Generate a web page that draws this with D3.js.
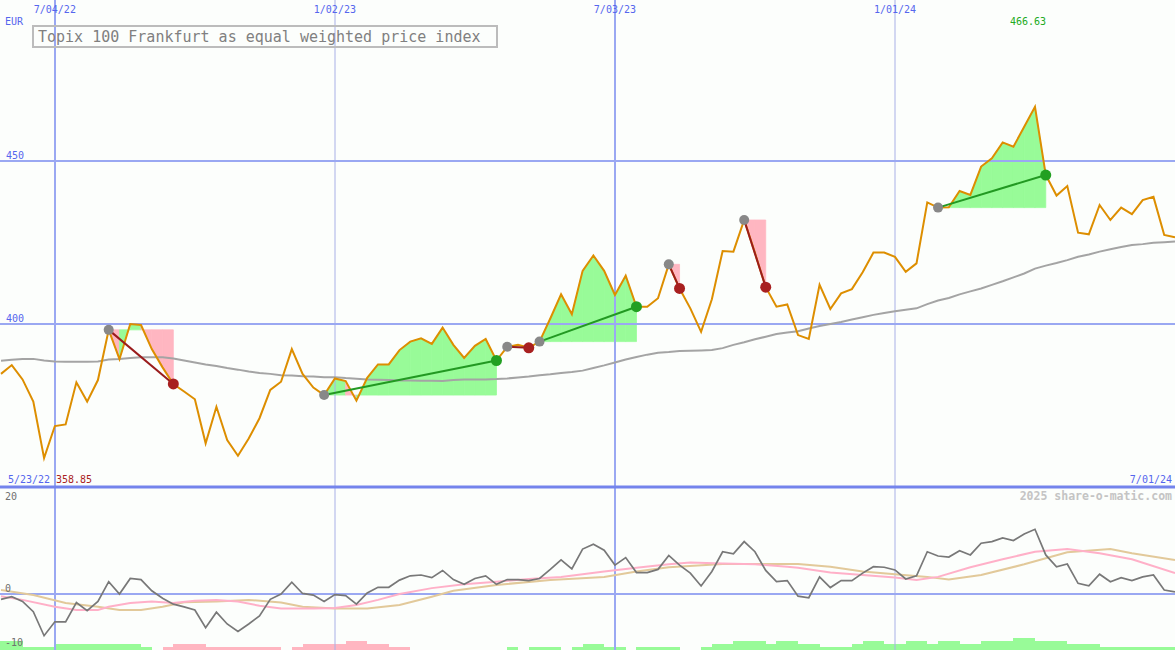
<!DOCTYPE html>
<html><head><meta charset="utf-8">
<script src="https://cdn.jsdelivr.net/npm/d3@7"></script>
<style>html,body{margin:0;padding:0;background:#fcfefc;}svg{display:block;}</style>
</head><body>
<svg id="c" width="1175" height="650"></svg>
<script>
// ---------------- DATA ----------------
const startDate = "2022-05-30";           // first weekly observation (Monday)
const endDate = "2024-07-01";             // last weekly observation
const price = [384.7,387.4,383.0,376.2,358.85,368.7,369.2,382.1,376.2,382.8,
 398.2,389.2,400.0,399.7,392.3,386.7,381.6,379.3,376.9,363.4,
 374.6,364.4,359.6,364.9,371.1,379.8,382.3,392.3,384.7,380.5,
 378.2,383.3,382.5,376.5,383.5,387.6,387.6,392.0,394.6,395.6,
 393.9,398.9,393.6,389.6,393.3,395.4,388.8,393.0,393.6,392.7,
 394.6,401.7,409.1,403.0,416.3,421.0,416.3,408.9,414.8,405.3,
 405.3,407.9,418.3,410.9,404.8,397.6,407.6,422.4,422.2,431.9,
 421.8,411.3,405.3,406.0,396.6,395.4,412.0,404.6,409.4,410.7,
 415.9,421.9,421.9,420.6,416.0,418.6,437.3,435.7,435.8,440.8,
 439.6,448.3,450.8,455.7,454.4,460.5,466.63,445.7,439.4,442.3,
 428.0,427.5,436.5,431.9,435.7,433.7,438.0,439.0,427.3,426.6];
const movingAvg = [388.7,389.0,389.3,389.3,388.8,388.5,388.4,388.4,388.4,388.5,
 389.1,389.3,389.6,389.8,389.8,389.8,389.4,388.8,388.2,387.6,
 387.1,386.5,386.0,385.4,385.0,384.7,384.3,384.2,384.0,383.9,
 383.7,383.7,383.4,383.2,383.0,382.9,382.8,382.7,382.7,382.6,
 382.6,382.5,382.8,383.0,383.0,383.0,383.1,383.3,383.6,383.9,
 384.3,384.6,385.0,385.3,385.7,386.5,387.3,388.2,389.1,389.9,
 390.6,391.2,391.4,391.7,391.8,391.9,392.0,392.6,393.6,394.4,
 395.3,396.1,396.9,397.4,397.8,398.6,399.4,400.0,400.6,401.4,
 402.1,402.8,403.4,403.9,404.4,404.8,406.1,407.2,408.0,409.1,
 410.0,410.9,412.0,413.1,414.3,415.5,417.0,417.9,418.7,419.6,
 420.6,421.3,422.2,422.9,423.6,424.2,424.5,424.9,425.1,425.3];
const momentum = [-1.0,-0.5,-1.4,-3.3,-7.8,-5.2,-5.2,-1.6,-3.1,-1.4,
 2.3,0.0,2.9,2.7,0.6,-0.8,-1.9,-2.4,-3.0,-6.3,
 -3.4,-5.6,-7.0,-5.6,-4.1,-1.0,0.0,2.2,0.1,-0.2,
 -1.4,-0.1,-0.3,-1.9,0.2,1.25,1.25,2.6,3.4,3.55,
 3.05,4.4,2.7,1.8,2.9,3.4,1.8,2.7,2.7,2.5,
 2.9,4.6,6.4,4.7,8.4,9.3,8.2,5.4,6.8,4.0,
 4.0,4.6,7.2,5.4,3.9,1.5,4.2,7.9,7.5,9.8,
 7.9,4.4,2.3,2.5,-0.4,-0.7,3.2,1.2,2.5,2.5,
 3.9,5.1,5.0,4.5,2.8,3.4,7.9,7.1,6.9,8.1,
 7.3,9.5,9.8,10.5,10.0,11.2,12.1,7.3,5.1,5.6,
 2.0,1.55,3.7,2.3,3.05,2.5,3.2,3.55,0.75,0.4];
// smoothed indicator lines, read at these week indices
const pinkWeeks = [0,2,5,7,9,10,12,14,16,18,20,22,24,26,29,31,33,35,37,40,43,46,49,52,56,59,62,64,67,70,73,74,77,80,83,85,87,90,93,96,99,102,105,109];
const pinkVals  = [-0.4,-1.1,-2.4,-3.0,-3.0,-2.4,-1.7,-1.4,-1.7,-1.25,-1.1,-1.4,-2.2,-2.7,-2.7,-2.6,-2.05,-1.1,0,1.1,1.8,2.3,2.8,3.2,4.2,4.9,5.55,5.9,5.7,5.55,5.1,4.9,4.0,3.55,3.1,2.6,3.2,5.0,6.5,7.9,8.4,7.6,6.5,3.9];
const tanWeeks = [0,3,6,9,11,13,15,17,20,23,26,28,31,34,37,40,42,46,51,56,59,62,67,71,74,77,80,83,86,88,91,95,99,103,105,109];
const tanVals  = [0.75,-0.2,-1.7,-2.4,-3.0,-3.0,-2.4,-1.55,-1.4,-1.1,-1.6,-2.4,-2.7,-2.7,-2.05,-0.5,0.6,1.7,2.6,3.2,4.2,5.0,5.6,5.6,5.6,5.1,4.2,3.7,3.2,2.7,3.55,5.55,7.8,8.4,7.6,6.35];
// weekly bottom bars (positive = green, negative = pink)
const weekBars = [3,3,1,1,1,2,2,2,2,2,
 2,2,2,1,0,-1,-2,-2,-2,-1,
 -1,-1,-1,-1,-1,-1,0,-1,-2,-2,
 -2,-2,-3,-3,-2,-2,-1,-1,0,0,
 0,0,0,0,0,0,0,1,0,1,
 1,1,0,1,2,2,1,1,0,1,
 1,1,1,0,0,1,2,2,3,3,
 3,2,3,3,2,2,1,1,1,2,
 3,3,2,2,3,3,2,3,3,2,
 2,3,3,3,4,4,3,3,3,2,
 2,2,1,1,1,1,1,1,1];
// trade signals (week indices)
const entryWeeks = [10,30,47,50,62,69,87];
const exitWeeks  = [16,46,49,59,63,71,97];
// axis labels
const gridDates  = ["2022-07-04","2023-01-02","2023-07-03","2024-01-01"];
const gridLabels = ["7/04/22","1/02/23","7/03/23","1/01/24"];
const priceTicks = [400,450];
const indTicks = [20,0,-10];
const titleText = "Topix 100 Frankfurt as equal weighted price index";
const firstLabel = "5/23/22", lastLabel = "7/01/24";
const minLabel = "358.85", maxLabel = "466.63";
const credit = "2025 share-o-matic.com";

// ---------------- CHART ----------------
const W = 1175, H = 650;
const svg = d3.select("#c");
const parse = d3.utcParse("%Y-%m-%d");
const t0 = parse(startDate);
const dates = price.map((_, i) => d3.utcDay.offset(t0, 7 * i));
const x = d3.scaleUtc().domain([t0, parse(endDate)]).range([1, 1175]);
const yP = d3.scaleLinear().domain([350, 500]).range([487, -2]);
const yI = d3.scaleLinear().domain([-10, 20]).range([647.5, 487]);
const yB = d3.scaleLinear().domain([0, 4]).range([650, 638]);
const mono = "'DejaVu Sans Mono', 'Liberation Mono', monospace";

svg.append("rect").attr("width", W).attr("height", H).attr("fill", "#fcfefc");

// trade fills
const gFill = svg.append("g");
entryWeeks.forEach((e, k) => {
  const level = price[e];
  for (let i = e; i < exitWeeks[k]; i++) {
    const x1 = x(dates[i]), x2 = x(dates[i + 1]);
    const pts = [[x1, yP(level)], [x1, yP(price[i])], [x2, yP(price[i + 1])], [x2, yP(level)]];
    const col = price[i + 1] >= level ? "#98fb98" : "#ffb6c1";
    gFill.append("path").attr("d", d3.line()(pts) + "Z")
      .attr("fill", col).attr("stroke", col).attr("stroke-width", 0.8);
  }
});

// bottom bars
svg.append("g").attr("shape-rendering", "crispEdges").selectAll("rect").data(weekBars).join("rect")
  .attr("x", (d, i) => x(dates[i]) - (i === 0 ? 1 : 0))
  .attr("width", (d, i) => x(dates[i + 1]) - x(dates[i]) + (i === 0 ? 1 : 0))
  .attr("y", d => yB(Math.abs(d)))
  .attr("height", d => 650 - yB(Math.abs(d)))
  .attr("fill", d => d >= 0 ? "#98fb98" : "#ffb6c1");

// grid
const gGrid = svg.append("g");
gridDates.forEach((d, i) => {
  const gx = Math.round(x(parse(d)));
  const major = i % 2 === 0;
  gGrid.append("line").attr("x1", gx).attr("x2", gx).attr("y1", 0).attr("y2", 650)
    .attr("stroke", major ? "#9aa8f2" : "#a8b0e6").attr("stroke-width", major ? 2 : 1);
});
priceTicks.forEach(v => {
  gGrid.append("line").attr("x1", 0).attr("x2", W).attr("y1", yP(v)).attr("y2", yP(v))
    .attr("stroke", "#9aa8f2").attr("stroke-width", 2);
});
gGrid.append("line").attr("x1", 0).attr("x2", W).attr("y1", yI(0)).attr("y2", yI(0))
  .attr("stroke", "#9aa8f2").attr("stroke-width", 2);
gGrid.append("line").attr("x1", 0).attr("x2", W).attr("y1", yI(20)).attr("y2", yI(20))
  .attr("stroke", "#7484ec").attr("stroke-width", 3);

// indicator lines
const lineI = d3.line().x(d => x(dates[d[0]])).y(d => yI(d[1]));
svg.append("path").attr("d", lineI(tanWeeks.map((w, i) => [w, tanVals[i]])))
  .attr("fill", "none").attr("stroke", "#e2c99a").attr("stroke-width", 2);
svg.append("path").attr("d", lineI(pinkWeeks.map((w, i) => [w, pinkVals[i]])))
  .attr("fill", "none").attr("stroke", "#ffb0c8").attr("stroke-width", 2);
svg.append("path").attr("d", lineI(momentum.map((v, i) => [i, v])))
  .attr("fill", "none").attr("stroke", "#787878").attr("stroke-width", 1.7);

// price panel lines
const lineP = d3.line().x((d, i) => x(dates[i])).y(d => yP(d));
svg.append("path").attr("d", lineP(movingAvg)).attr("fill", "none")
  .attr("stroke", "#a4a4a4").attr("stroke-width", 2);
svg.append("path").attr("d", lineP(price)).attr("fill", "none")
  .attr("stroke", "#dd8e00").attr("stroke-width", 2);

// trade connectors and dots
entryWeeks.forEach((e, k) => {
  const xw = exitWeeks[k];
  const win = price[xw] > price[e];
  svg.append("line").attr("x1", x(dates[e])).attr("y1", yP(price[e]))
    .attr("x2", x(dates[xw])).attr("y2", yP(price[xw]))
    .attr("stroke", win ? "#229922" : "#9a1c1c").attr("stroke-width", 2);
});
entryWeeks.forEach((e, k) => {
  const xw = exitWeeks[k];
  const win = price[xw] > price[e];
  svg.append("circle").attr("cx", x(dates[e])).attr("cy", yP(price[e])).attr("r", 5)
    .attr("fill", "#888888");
  svg.append("circle").attr("cx", x(dates[xw])).attr("cy", yP(price[xw])).attr("r", 5.5)
    .attr("fill", win ? "#22a022" : "#a82020");
});

// texts
const txt = (s, tx, ty, fill, opts = {}) => svg.append("text").text(s)
  .attr("x", tx).attr("y", ty).attr("fill", fill)
  .attr("font-family", mono).attr("font-size", opts.size || 10)
  .attr("font-weight", opts.weight || "normal")
  .attr("text-anchor", opts.anchor || "start");

gridDates.forEach((d, i) => txt(gridLabels[i], x(parse(d)), 13, "#5566ee", {anchor: "middle"}));
txt("EUR", 5, 25, "#5566ee");
priceTicks.forEach(v => txt(String(v), 6, yP(v) - 2, "#5566ee"));
txt(firstLabel, 8, 483, "#5566ee");
txt(minLabel, 56, 483, "#aa2222");
txt(lastLabel, 1172, 483, "#5566ee", {anchor: "end"});
txt(credit, 1172, 500, "#c4c4c4", {anchor: "end", size: 11.5, weight: "bold"});
indTicks.forEach(v => txt(String(v), 5, v === 20 ? 500 : yI(v) - 2, "#707070"));
const iMax = price.indexOf(d3.max(price));
txt(maxLabel, x(dates[iMax]) - 7, 25, "#22aa22", {anchor: "middle"});

// title box
svg.append("rect").attr("x", 33).attr("y", 26).attr("width", 464).attr("height", 21)
  .attr("fill", "none").attr("stroke", "#bcbcbc").attr("stroke-width", 2);
txt(titleText, 38, 42, "#808080", {size: 15});
</script>
</body></html>
